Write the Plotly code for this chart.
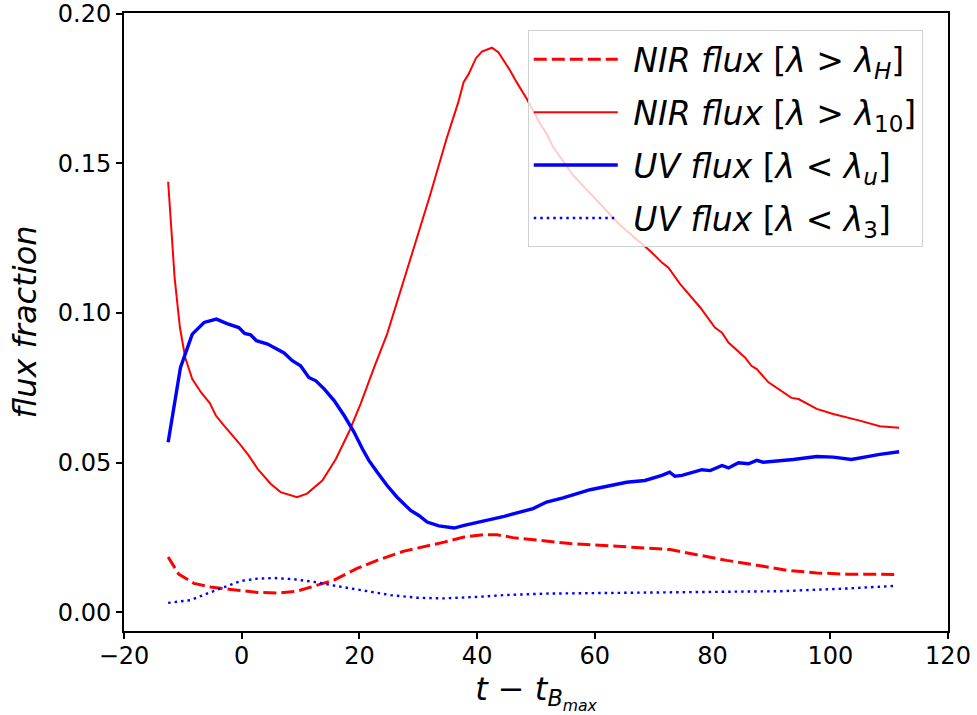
import plotly.graph_objects as go

# NIR flux [lambda > lambda_10] (red solid)
nir10_t = [-12.5, -11.4, -10.5, -9.6, -8.4, -6.9, -5.4, -4.4, -3.0, -0.5, 1.2, 2.7, 4.9, 6.6, 9.4, 11.1, 13.7, 16.0,
           18.2, 20.2, 22.5, 24.7, 28.0, 32.0, 34.8, 36.8, 37.7, 38.5, 39.8, 40.8, 42.5, 43.6, 45.6, 46.7,
           48.4, 50.7, 51.8, 52.9, 56.3, 59.7, 64.3, 69.4, 71.4, 72.5, 74.5, 77.9, 80.4, 81.6, 82.7, 85.5, 86.6,
           87.5, 89.5, 93.4, 94.6, 97.7, 100.5, 105.0, 108.4, 111.7]
nir10_f = [0.1438, 0.1118, 0.0951, 0.0851, 0.0779, 0.0734, 0.0698, 0.0657, 0.0623, 0.0566, 0.0523, 0.0479, 0.0429,
           0.0401, 0.0384, 0.0396, 0.0440, 0.0512, 0.0601, 0.0696, 0.0818, 0.0929, 0.1138, 0.1393, 0.1582,
           0.1704, 0.1771, 0.1796, 0.1851, 0.1873, 0.1886, 0.1871, 0.1810, 0.1771, 0.1716, 0.1632, 0.1599, 0.1554,
           0.1460, 0.1388, 0.1293, 0.1207, 0.1168, 0.1151, 0.1096, 0.1018, 0.0951, 0.0934, 0.0901, 0.0851, 0.0823,
           0.0812, 0.0768, 0.0716, 0.0712, 0.0679, 0.0662, 0.0640, 0.0621, 0.0616]

# NIR flux [lambda > lambda_H] (red dashed)
nirH_t = [-12.5, -10.7, -8.1, -5.3, -1.9, 2.7, 6.1, 9.4, 12.3, 15.7, 19.6, 23.0, 27.6, 31.0, 34.4, 37.8, 41.2,
          43.3, 46.1, 50.7, 55.8, 63.1, 68.8, 72.8, 77.3, 82.4, 87.5, 92.6, 97.7, 102.8, 111.5]
nirH_f = [0.0184, 0.0127, 0.0096, 0.0084, 0.0076, 0.0066, 0.0064, 0.0070, 0.0087, 0.0107, 0.0146, 0.0173, 0.0204,
          0.0218, 0.0234, 0.0251, 0.0259, 0.0259, 0.0249, 0.0240, 0.0229, 0.0221, 0.0214, 0.0209, 0.0192, 0.0173,
          0.0157, 0.0140, 0.0131, 0.0127, 0.0126]

# UV flux [lambda < lambda_u] (blue solid)
uvu_t = [-12.5, -11.5, -10.4, -8.4, -6.4, -4.3, -2.5, -0.5, 0.5, 1.5, 2.5, 4.4, 7.2, 8.6, 10.0, 11.4, 12.6, 14.0,
         15.7, 17.4, 19.1, 20.5, 21.6, 23.0, 24.7, 26.4, 28.7, 30.1, 31.5, 33.5, 36.1, 37.8, 39.8, 41.7, 44.6,
         49.5, 51.8, 54.6, 59.2, 65.4, 68.5, 71.4, 72.7, 73.6, 74.8, 78.2, 79.6, 81.6, 82.7, 84.4, 86.1, 87.5,
         88.6, 93.7, 97.7, 100.5, 103.6, 108.4, 111.7]
uvu_f = [0.0568, 0.0696, 0.0818, 0.0929, 0.0968, 0.0979, 0.0964, 0.0951, 0.0931, 0.0927, 0.0907, 0.0896, 0.0866,
         0.0840, 0.0823, 0.0784, 0.0773, 0.0746, 0.0707, 0.0657, 0.0601, 0.0546, 0.0507, 0.0468, 0.0423, 0.0384,
         0.0340, 0.0323, 0.0301, 0.0288, 0.0281, 0.0290, 0.0299, 0.0309, 0.0320, 0.0346, 0.0368, 0.0382, 0.0409,
         0.0434, 0.0440, 0.0457, 0.0468, 0.0454, 0.0457, 0.0476, 0.0473, 0.0490, 0.0482, 0.0499, 0.0496, 0.0507,
         0.0501, 0.0510, 0.0520, 0.0518, 0.0510, 0.0527, 0.0536]

# UV flux [lambda < lambda_3] (blue dotted)
uv3_t = [-12.5, -8.7, -5.9, -3.0, -0.2, 2.7, 5.5, 8.9, 12.3, 16.2, 20.8, 25.3, 29.8, 34.4, 40.0, 44.6, 51.8, 74.5,
         91.5, 102.8, 111.3]
uv3_f = [0.0031, 0.0040, 0.0062, 0.0084, 0.0104, 0.0112, 0.0114, 0.0110, 0.0101, 0.0087, 0.0071, 0.0057, 0.0048,
         0.0046, 0.0051, 0.0057, 0.0062, 0.0066, 0.0070, 0.0079, 0.0088]

x_ticks = [-20, 0, 20, 40, 60, 80, 100, 120]
x_tick_text = ["\u221220", "0", "20", "40", "60", "80", "100", "120"]
y_ticks = [0.00, 0.05, 0.10, 0.15, 0.20]
y_tick_text = ["0.00", "0.05", "0.10", "0.15", "0.20"]

FONT = "DejaVu Sans"
SP = "\u00a0"

fig = go.Figure()
fig.add_trace(go.Scatter(x=nirH_t, y=nirH_f, mode="lines", legendgroup="a",
                         line=dict(color="red", width=3, dash="13px,5px"),
                         name=SP + "<i>NIR flux</i> [<i>\u03bb</i> > <i>\u03bb<sub>H</sub></i>]"))
fig.add_trace(go.Scatter(x=nir10_t, y=nir10_f, mode="lines", legendgroup="b",
                         line=dict(color="red", width=2),
                         name=SP + "<i>NIR flux</i> [<i>\u03bb</i> > <i>\u03bb</i><sub>10</sub>]"))
fig.add_trace(go.Scatter(x=uvu_t, y=uvu_f, mode="lines", legendgroup="c",
                         line=dict(color="blue", width=3.4),
                         name=SP + "<i>UV flux</i> [<i>\u03bb</i> < <i>\u03bb<sub>u</sub></i>]"))
fig.add_trace(go.Scatter(x=uv3_t, y=uv3_f, mode="lines", legendgroup="d",
                         line=dict(color="blue", width=2.4, dash="2.5px,4px"),
                         name=SP + "<i>UV flux</i> [<i>\u03bb</i> < <i>\u03bb</i><sub>3</sub>]"))

axis_common = dict(showline=True, linecolor="black", linewidth=2, mirror=True,
                   ticks="outside", ticklen=6, tickwidth=1.5, tickcolor="black",
                   showgrid=False, zeroline=False, ticklabeloverflow="allow",
                   tickfont=dict(family=FONT, size=24, color="black"))

fig.update_xaxes(range=[-20, 120], tickvals=x_ticks, ticktext=x_tick_text,
                 ticklabelstandoff=-4,
                 title=dict(text="<i>t</i> \u2212 <i>t<sub>B<sub>max</sub></sub></i>",
                            font=dict(family=FONT, size=32, color="black"), standoff=4),
                 **axis_common)
fig.update_yaxes(range=[-0.0063, 0.2002], tickvals=y_ticks, ticktext=y_tick_text,
                 title=dict(text="<i>flux fraction</i>",
                            font=dict(family=FONT, size=32, color="black"), standoff=12),
                 **axis_common)

fig.update_layout(
    width=977, height=715,
    margin=dict(l=124, r=29, t=13, b=84, autoexpand=False),
    plot_bgcolor="white", paper_bgcolor="white",
    font=dict(family=FONT, size=24, color="black"),
    legend=dict(x=0.49, y=0.972, xanchor="left", yanchor="top",
                bgcolor="rgba(255,255,255,0.8)", bordercolor="#d0d0d0", borderwidth=1,
                font=dict(family=FONT, size=33, color="black"),
                tracegroupgap=7, itemwidth=84),
    showlegend=True,
)

fig.write_html("out.html", config={"displayModeBar": False},
               post_script="document.body.style.margin='0px';document.body.style.overflow='hidden';")
